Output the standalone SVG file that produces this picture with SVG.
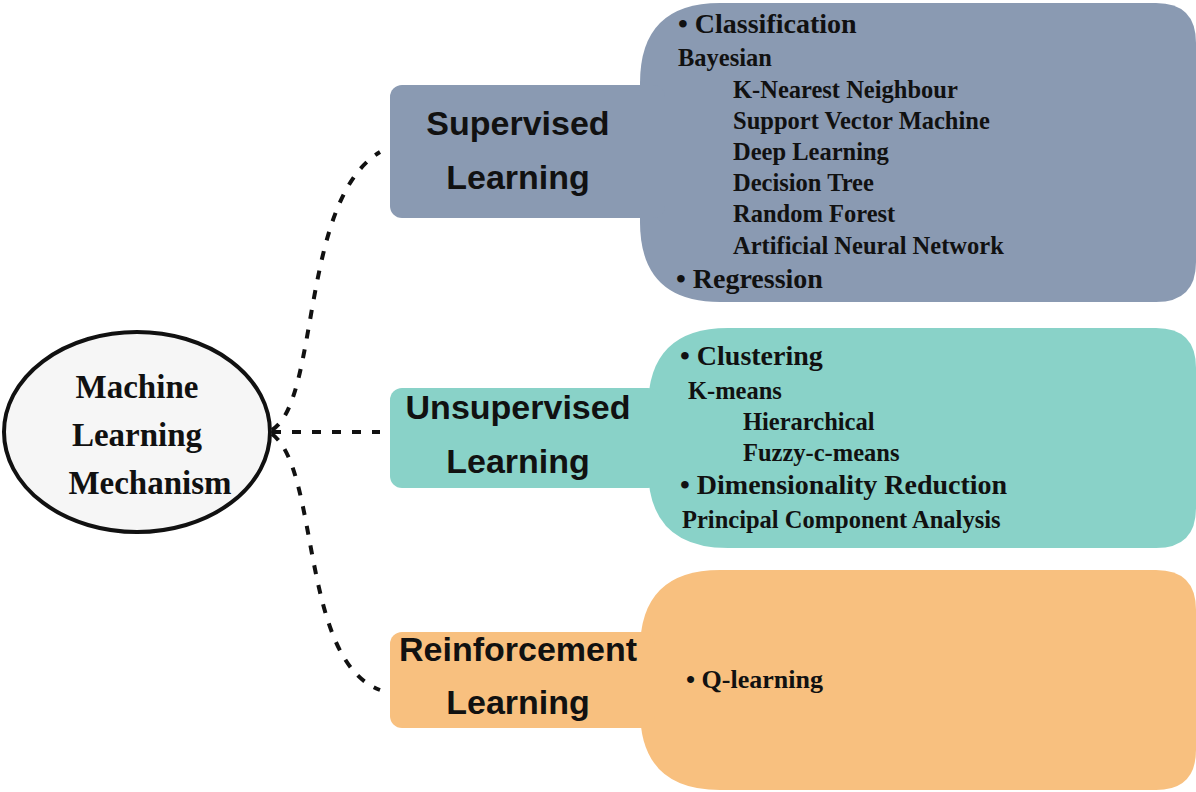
<svg xmlns="http://www.w3.org/2000/svg" width="1196" height="792" viewBox="0 0 1196 792">
<style>
.lbl{font-family:"Liberation Sans",Arial,sans-serif;font-weight:bold;font-size:34px;fill:#111;text-anchor:middle}
.it{font-family:"Liberation Serif","Times New Roman",serif;font-weight:bold;font-size:24.5px;fill:#111}
.hd{font-family:"Liberation Serif","Times New Roman",serif;font-weight:bold;font-size:28px;fill:#111}
.rt{font-family:"Liberation Serif","Times New Roman",serif;font-weight:bold;font-size:33px;fill:#111;text-anchor:middle}
.cn{fill:none;stroke:#111;stroke-width:4;stroke-dasharray:9 11}
</style>
<rect width="1196" height="792" fill="#fff"/>
<g id="connectors">
<path class="cn" d="M272,430 C320,400 300,200 380,152"/>
<path class="cn" d="M272,432 L380,432"/>
<path class="cn" d="M272,434 C320,470 300,660 380,690"/>
</g>
<g id="root">
<ellipse cx="137" cy="432" rx="133" ry="100" fill="#f6f6f6" stroke="#111" stroke-width="4"/>
<text class="rt" x="137" y="398">Machine</text>
<text class="rt" x="137" y="446">Learning</text>
<text class="rt" x="150" y="494">Mechanism</text>
</g>
<g id="supervised">
<path d="M720,3 H1156 Q1196,3 1196,43 V262 Q1196,302 1156,302 H720 Q640,302 640,222 V83 Q640,3 720,3 Z" fill="#8a9ab2"/>
<rect x="390" y="85" width="275" height="133" rx="12" fill="#8a9ab2"/>
<text class="lbl" x="518" y="135">Supervised</text>
<text class="lbl" x="518" y="189">Learning</text>
<text class="hd" x="678" y="33">• Classification</text>
<text class="it" x="678" y="66">Bayesian</text>
<text class="it" x="733" y="98">K-Nearest Neighbour</text>
<text class="it" x="733" y="129">Support Vector Machine</text>
<text class="it" x="733" y="160">Deep Learning</text>
<text class="it" x="733" y="191">Decision Tree</text>
<text class="it" x="733" y="222">Random Forest</text>
<text class="it" x="733" y="254">Artificial Neural Network</text>
<text class="hd" x="676" y="288">• Regression</text>
</g>
<g id="unsupervised">
<path d="M728,328 H1156 Q1196,328 1196,368 V508 Q1196,548 1156,548 H728 Q648,548 648,468 V408 Q648,328 728,328 Z" fill="#89d2c8"/>
<rect x="390" y="388" width="270" height="100" rx="12" fill="#89d2c8"/>
<text class="lbl" x="518" y="419">Unsupervised</text>
<text class="lbl" x="518" y="473">Learning</text>
<text class="hd" x="680" y="365">• Clustering</text>
<text class="it" x="688" y="399">K-means</text>
<text class="it" x="743" y="430">Hierarchical</text>
<text class="it" x="743" y="461">Fuzzy-c-means</text>
<text class="hd" x="680" y="494">• Dimensionality Reduction</text>
<text class="it" x="682" y="528">Principal Component Analysis</text>
</g>
<g id="reinforcement">
<path d="M720,570 H1156 Q1196,570 1196,610 V750 Q1196,790 1156,790 H720 Q640,790 640,710 V650 Q640,570 720,570 Z" fill="#f8c07f"/>
<rect x="390" y="632" width="265" height="96" rx="12" fill="#f8c07f"/>
<text class="lbl" x="518" y="661">Reinforcement</text>
<text class="lbl" x="518" y="714">Learning</text>
<text class="it" x="686" y="688" style="font-size:26px">• Q-learning</text>
</g>
</svg>
